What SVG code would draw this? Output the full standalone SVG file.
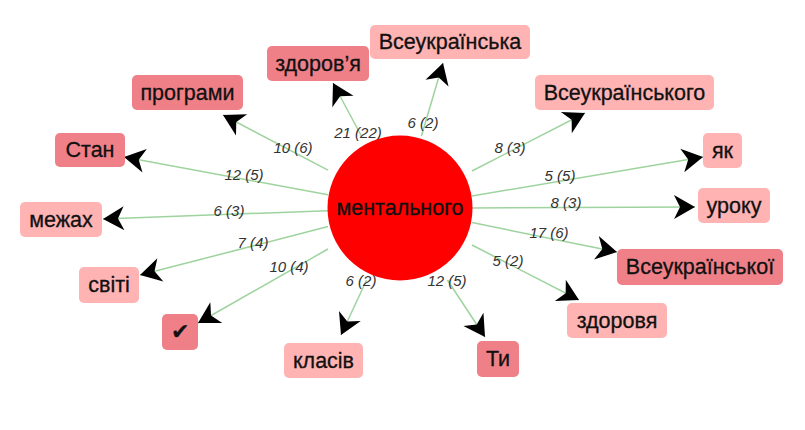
<svg xmlns="http://www.w3.org/2000/svg" width="805" height="430" viewBox="0 0 805 430">
<style>
.n rect{stroke:none}
.l rect{fill:#ffb3b3}
.d rect{fill:#f08088}
.n text{font-family:"Liberation Sans",Arial,sans-serif;font-size:21.5px;fill:#111;stroke:#111;stroke-width:0.3;text-anchor:middle;dominant-baseline:central}
.e line{stroke:#9ed39e;stroke-width:1.5;marker-end:url(#arr)}
.e text{font-family:"Liberation Sans",Arial,sans-serif;font-size:15px;font-style:italic;fill:#333;text-anchor:middle;dominant-baseline:central}
</style>
<defs>
<marker id="arr" markerUnits="userSpaceOnUse" viewBox="-22 -14 24 28" refX="0" refY="0" markerWidth="24" markerHeight="28" orient="auto">
<path d="M0,0 L-21,-12 L-15,0 L-21,12 Z" fill="#000"/>
</marker>
</defs>
<rect width="805" height="430" fill="#fff"/>
<g id="edges" class="e">
<line x1="361.4" y1="136" x2="333" y2="83"/>
<line x1="421.4" y1="136" x2="443" y2="63"/>
<line x1="472" y1="171" x2="585" y2="113"/>
<line x1="472" y1="196" x2="703" y2="157"/>
<line x1="472" y1="208" x2="695" y2="207"/>
<line x1="472" y1="222.6" x2="617" y2="252"/>
<line x1="472" y1="245" x2="579" y2="300"/>
<line x1="447.4" y1="280" x2="485" y2="337"/>
<line x1="366.6" y1="280" x2="341" y2="335"/>
<line x1="328" y1="249" x2="198" y2="323"/>
<line x1="328" y1="226.6" x2="140" y2="275"/>
<line x1="328" y1="210.7" x2="103" y2="219"/>
<line x1="328" y1="194.7" x2="124" y2="157"/>
<line x1="328" y1="170.2" x2="223" y2="115"/>
<text x="358" y="132">21 (22)</text>
<text x="423" y="122">6 (2)</text>
<text x="510" y="147">8 (3)</text>
<text x="560" y="175">5 (5)</text>
<text x="566" y="202">8 (3)</text>
<text x="549" y="232">17 (6)</text>
<text x="508" y="260">5 (2)</text>
<text x="447" y="280">12 (5)</text>
<text x="361" y="280">6 (2)</text>
<text x="289" y="266">10 (4)</text>
<text x="253" y="242">7 (4)</text>
<text x="229" y="210">6 (3)</text>
<text x="244" y="174">12 (5)</text>
<text x="293" y="147">10 (6)</text>
</g>
<g id="n-center" class="n">
<circle cx="400" cy="208" r="72.5" fill="#ff0000"/>
<text x="400" y="208">ментального</text>
</g>
<g id="n-zdorovya1" class="n d"><rect x="267" y="46" width="102" height="35" rx="5"/><text x="318" y="63.5">здоров’я</text></g>
<g id="n-vseukr1" class="n l"><rect x="370" y="25" width="160" height="34" rx="5"/><text x="450" y="42">Всеукраїнська</text></g>
<g id="n-prohramy" class="n d"><rect x="132" y="75" width="111" height="35" rx="5"/><text x="187.5" y="92.5">програми</text></g>
<g id="n-stan" class="n d"><rect x="55" y="133" width="70" height="34" rx="5"/><text x="90" y="150">Стан</text></g>
<g id="n-vseukr2" class="n l"><rect x="535" y="75" width="179" height="35" rx="5"/><text x="624.5" y="92.5">Всеукраїнського</text></g>
<g id="n-yak" class="n l"><rect x="703" y="133" width="39" height="35" rx="5"/><text x="722.5" y="150.5">як</text></g>
<g id="n-mezhakh" class="n l"><rect x="20" y="202" width="82" height="35" rx="5"/><text x="61" y="219.5">межах</text></g>
<g id="n-uroku" class="n l"><rect x="698" y="188" width="72" height="35" rx="5"/><text x="734" y="205.5">уроку</text></g>
<g id="n-sviti" class="n l"><rect x="79" y="267" width="60" height="36" rx="5"/><text x="109" y="285">світі</text></g>
<g id="n-vseukr3" class="n d"><rect x="617" y="249" width="166" height="36" rx="5"/><text x="700" y="267">Всеукраїнської</text></g>
<g id="n-check" class="n d"><rect x="162" y="314" width="36" height="36" rx="5"/><text x="180" y="332">✔</text></g>
<g id="n-klasiv" class="n l"><rect x="284" y="343" width="79" height="35" rx="5"/><text x="323.5" y="360.5">класів</text></g>
<g id="n-ty" class="n d"><rect x="477" y="341" width="42" height="36" rx="5"/><text x="498" y="359">Ти</text></g>
<g id="n-zdorovya2" class="n l"><rect x="567" y="303" width="100" height="35" rx="5"/><text x="617" y="320.5">здоровя</text></g>
</svg>
